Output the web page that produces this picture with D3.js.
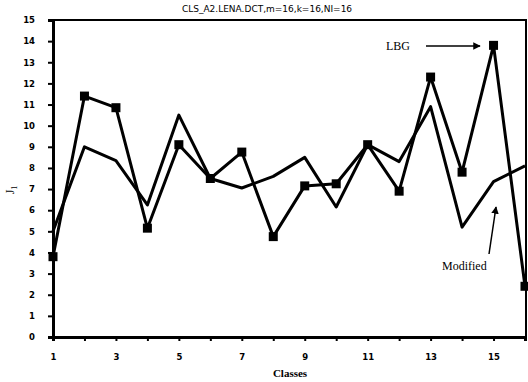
<!DOCTYPE html>
<html>
<head>
<meta charset="utf-8">
<script src="https://cdn.jsdelivr.net/npm/d3@7"></script>
<style>
	body { margin: 0; background: #fff; }
	svg { display: block; }
	.tick text { font-family: 'DejaVu Sans', sans-serif; font-weight: bold; font-size: 8.5px; }
</style>
</head>
<body>
<svg id="chart" width="528" height="382"></svg>
<script>
const classes = [ 1, 2, 3, 4, 5, 6, 7, 8, 9, 10, 11, 12, 13, 14, 15, 16 ];
const lbg = [ 3.8, 11.4, 10.85, 5.15, 9.1, 7.5, 8.75, 4.75, 7.15, 7.25, 9.1, 6.9, 12.3, 7.8, 13.8, 2.4 ];
const modified = [ 5.0, 9.0, 8.35, 6.25, 10.5, 7.5, 7.05, 7.6, 8.5, 6.15, 9.1, 8.3, 10.9, 5.2, 7.35, 8.1 ];
const yTicks = d3.range(0, 16);
const xLabels = [ 1, 3, 5, 7, 9, 11, 13, 15 ];
const title = 'CLS_A2.LENA.DCT,m=16,k=16,NI=16';

const svg = d3.select('svg#chart');
const m = { left: 53, right: 525, top: 20, bottom: 337 };

const x = d3.scaleLinear([ 1, 16 ], [ m.left, m.right ]);
const y = d3.scaleLinear([ 0, 15 ], [ m.bottom, m.top ]);

// frame: top and right edges
svg.append('path')
	.attr('d', `M${m.left},${m.top}H${m.right + 1}V${m.bottom}`)
	.attr('fill', 'none')
	.attr('stroke', '#000')
	.attr('stroke-width', 2);

const yAxis = svg.append('g')
	.attr('transform', `translate(${m.left},0)`)
	.call(d3.axisLeft(y).tickValues(yTicks).tickSize(5).tickPadding(13));
yAxis.select('.domain').attr('stroke-width', 3);
yAxis.selectAll('.tick line').attr('stroke-width', 2);

const xAxis = svg.append('g')
	.attr('transform', `translate(0,${m.bottom})`)
	.call(d3.axisBottom(x).tickValues(classes).tickSize(4).tickPadding(13)
		.tickFormat(d => xLabels.includes(d) ? d : ''));
xAxis.select('.domain').attr('stroke-width', 3);
xAxis.selectAll('.tick line').attr('stroke-width', 2);

const line = d3.line()
	.x((d, i) => x(classes[i]))
	.y(d => y(d));

svg.append('path')
	.datum(modified)
	.attr('d', line)
	.attr('fill', 'none')
	.attr('stroke', '#000')
	.attr('stroke-width', 3)
	.attr('stroke-linejoin', 'round');

svg.append('path')
	.datum(lbg)
	.attr('d', line)
	.attr('fill', 'none')
	.attr('stroke', '#000')
	.attr('stroke-width', 3)
	.attr('stroke-linejoin', 'round');

svg.selectAll('rect.marker')
	.data(lbg)
	.join('rect')
	.attr('class', 'marker')
	.attr('x', (d, i) => x(classes[i]) - 4.5)
	.attr('y', d => y(d) - 4.5)
	.attr('width', 9)
	.attr('height', 9)
	.attr('fill', '#000');

// title
svg.append('text')
	.attr('x', 267)
	.attr('y', 12)
	.attr('text-anchor', 'middle')
	.attr('font-family', 'DejaVu Sans, sans-serif')
	.attr('font-size', 9)
	.text(title);

// axis labels
svg.append('text')
	.attr('x', 290)
	.attr('y', 377)
	.attr('text-anchor', 'middle')
	.attr('font-family', 'Liberation Serif, serif')
	.attr('font-weight', 'bold')
	.attr('font-size', 11)
	.text('Classes');

const yl = svg.append('text')
	.attr('transform', 'translate(14,190) rotate(-90)')
	.attr('text-anchor', 'middle')
	.attr('font-family', 'Liberation Serif, serif')
	.attr('font-size', 12);
yl.append('tspan').text('J');
yl.append('tspan').attr('font-size', 8).attr('dy', 3).text('1');

// annotations
svg.append('defs').append('marker')
	.attr('id', 'head')
	.attr('viewBox', '0 0 10 10')
	.attr('refX', 9).attr('refY', 5)
	.attr('markerWidth', 5).attr('markerHeight', 5)
	.attr('orient', 'auto')
	.append('path').attr('d', 'M0,0L10,5L0,10Z').attr('fill', '#000');

svg.append('text')
	.attr('x', 386).attr('y', 50)
	.attr('font-family', 'Liberation Serif, serif')
	.attr('font-size', 12)
	.text('LBG');
svg.append('line')
	.attr('x1', 426).attr('y1', 46).attr('x2', 480).attr('y2', 46)
	.attr('stroke', '#000').attr('stroke-width', 1.5)
	.attr('marker-end', 'url(#head)');

svg.append('text')
	.attr('x', 442).attr('y', 270)
	.attr('font-family', 'Liberation Serif, serif')
	.attr('font-size', 12)
	.text('Modified');
svg.append('line')
	.attr('x1', 489).attr('y1', 254).attr('x2', 496).attr('y2', 207)
	.attr('stroke', '#000').attr('stroke-width', 1.5)
	.attr('marker-end', 'url(#head)');
</script>
</body>
</html>
